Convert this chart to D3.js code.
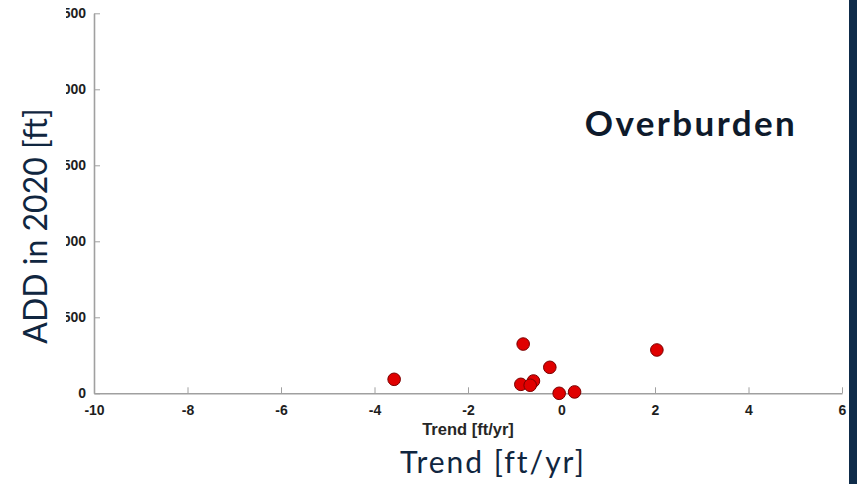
<!DOCTYPE html>
<html><head><meta charset="utf-8">
<script src="https://cdn.jsdelivr.net/npm/d3@7"></script>
<style>body{margin:0;background:#fff}svg{display:block}</style>
</head><body>
<script>
const trend = [-3.58, -0.82, -0.25, -0.87, -0.60, -0.67, -0.05, 0.28, 2.04];
const add2020 = [92, 324, 171, 59, 81, 53, 0, 9, 285];
const xTicks = [-10, -8, -6, -4, -2, 0, 2, 4, 6];
const yTicks = [0, 500, 1000, 1500, 2000, 2500];

const W = 857, H = 484;
const svg = d3.select("body").append("svg").attr("width", W).attr("height", H);

const x = d3.scaleLinear().domain([-10, 6]).range([94, 842]);
const y = d3.scaleLinear().domain([0, 2500]).range([393.3, 13.3]);

svg.append("defs").append("clipPath").attr("id", "imgclip")
  .append("rect").attr("x", 66).attr("y", 0).attr("width", 783).attr("height", H);

const g = svg.append("g").attr("clip-path", "url(#imgclip)");

const tickFont = "'Liberation Sans', Arial, sans-serif";
const fmt = d => String(d);

const xAxis = g.append("g").attr("transform", `translate(0,${y(0)})`)
  .call(d3.axisBottom(x).tickValues(xTicks).tickSizeInner(-6).tickSizeOuter(0).tickPadding(12).tickFormat(fmt));
const yAxis = g.append("g").attr("transform", `translate(${x(-10)},0)`)
  .call(d3.axisLeft(y).tickValues(yTicks).tickSizeInner(-6).tickSizeOuter(0).tickPadding(8).tickFormat(fmt));

[xAxis, yAxis].forEach(a => {
  a.select(".domain").attr("stroke", "#a0a0a0").attr("stroke-width", 1.6);
  a.selectAll(".tick line").attr("stroke", "#a0a0a0").attr("stroke-width", 1);
  a.selectAll(".tick text").attr("fill", "#1e1e1e").attr("font-family", tickFont)
    .attr("font-weight", "bold").attr("font-size", 14);
});
yAxis.selectAll(".tick text").attr("dy", "0.32em");

g.append("text").attr("x", 468).attr("y", 435).attr("text-anchor", "middle")
  .attr("font-family", tickFont).attr("font-weight", "bold").attr("font-size", 16.5)
  .attr("fill", "#262626").text("Trend [ft/yr]");

g.selectAll("circle.pt").data(trend.map((t, i) => ({t, v: add2020[i]})))
  .enter().append("circle").attr("class", "pt")
  .attr("cx", d => x(d.t)).attr("cy", d => y(d.v)).attr("r", 6.3)
  .attr("fill", "#e00000").attr("stroke", "#7a0000").attr("stroke-width", 1);

const slideFont = "Lato, 'Open Sans', sans-serif";
svg.append("text").attr("x", 691).attr("y", 136).attr("text-anchor", "middle")
  .attr("font-family", slideFont).attr("font-weight", "bold").attr("font-size", 35)
  .attr("letter-spacing", 2.4)
  .attr("fill", "#0e1a2b").text("Overburden");

svg.append("text").attr("x", 493).attr("y", 473).attr("text-anchor", "middle")
  .attr("font-family", slideFont).attr("font-size", 30).attr("letter-spacing", 2)
  .attr("fill", "#102640").text("Trend [ft/yr]");

svg.append("text").attr("transform", "translate(47,226) rotate(-90)").attr("text-anchor", "middle")
  .attr("font-family", slideFont).attr("font-size", 32)
  .attr("fill", "#102640").text("ADD in 2020 [ft]");

svg.append("rect").attr("x", 849).attr("y", 0).attr("width", 8).attr("height", H).attr("fill", "#0f2c4a");
</script>
</body></html>
